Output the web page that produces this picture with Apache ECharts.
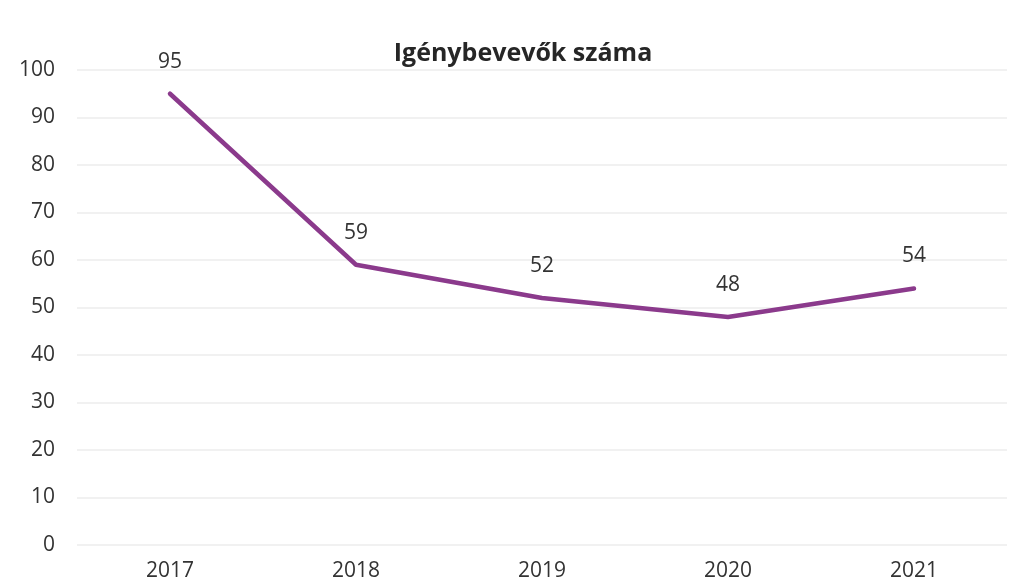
<!DOCTYPE html>
<html>
<head>
<meta charset="utf-8">
<script src="https://cdn.jsdelivr.net/npm/echarts@6/dist/echarts.min.js"></script>
<style>
  html, body { margin: 0; padding: 0; background: #fff; }
  #chart { width: 1019px; height: 585px; }
</style>
</head>
<body>
<div id="chart"></div>
<script>
const years = ['2017', '2018', '2019', '2020', '2021'];
const counts = [95, 59, 52, 48, 54];
const chartTitle = 'Igénybevevők száma';

const chart = echarts.init(document.getElementById('chart'));

const font = '"Open Sans", "Liberation Sans", sans-serif';

chart.setOption({
  backgroundColor: '#ffffff',
  animation: false,
  title: {
    text: chartTitle,
    left: 518,
    textAlign: 'center',
    top: 36,
    textStyle: {
      fontFamily: font,
      fontSize: 25,
      fontWeight: 'bold',
      color: '#262626'
    }
  },
  grid: {
    left: 77,
    right: 12,
    top: 70,
    bottom: 40
  },
  xAxis: {
    type: 'category',
    data: years,
    axisLine: { show: false },
    axisTick: { show: false },
    axisLabel: {
      fontFamily: font,
      fontSize: 21,
      color: '#333333',
      margin: 16
    }
  },
  yAxis: {
    type: 'value',
    min: 0,
    max: 100,
    interval: 10,
    axisLine: { show: false },
    axisTick: { show: false },
    axisLabel: {
      fontFamily: font,
      fontSize: 21,
      color: '#333333',
      margin: 22
    },
    splitLine: {
      lineStyle: { color: '#ededed', width: 1.5 }
    }
  },
  series: [
    {
      type: 'line',
      data: counts,
      symbol: 'circle',
      symbolSize: 3,
      showSymbol: true,
      itemStyle: { color: '#8b3a8c' },
      lineStyle: { color: '#8b3a8c', width: 4.5, cap: 'round', join: 'round' },
      label: {
        show: true,
        position: 'top',
        distance: 20,
        fontFamily: font,
        fontSize: 21,
        color: '#333333'
      }
    }
  ]
});
</script>
</body>
</html>
